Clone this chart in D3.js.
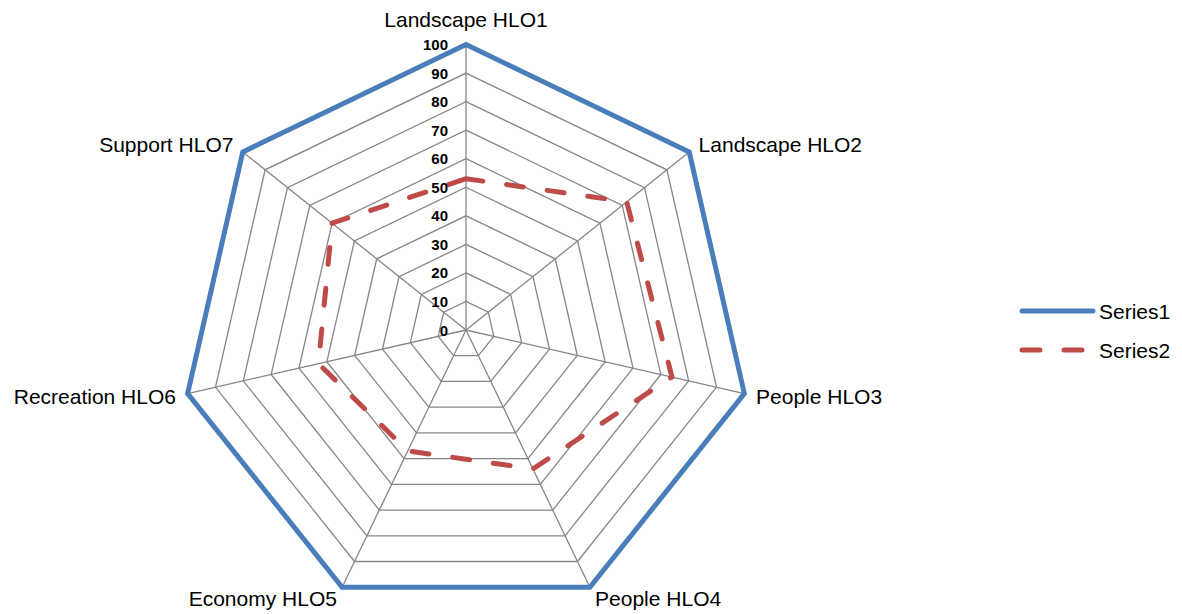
<!DOCTYPE html>
<html>
<head>
<meta charset="utf-8">
<script src="https://cdn.jsdelivr.net/npm/d3@7"></script>
<style>
  html, body { margin: 0; padding: 0; background: #ffffff; }
  svg { display: block; font-family: "Liberation Sans", Arial, sans-serif; }
</style>
</head>
<body>
<svg id="chart" width="1182" height="614"></svg>
<script>
// Radar axes (clockwise from the top)
const categories = [
  "Landscape HLO1", "Landscape HLO2", "People HLO3", "People HLO4",
  "Economy HLO5", "Recreation HLO6", "Support HLO7"
];
const series1 = [100, 100, 100, 100, 100, 100, 100];
const series2 = [53, 72, 74, 54, 47, 53, 60];
const seriesNames = ["Series1", "Series2"];
const tickValues = [0, 10, 20, 30, 40, 50, 60, 70, 80, 90, 100];

const svg = d3.select("#chart");
const cx = 466, cy = 330, R = 285.5;

const r = d3.scaleLinear().domain([0, 100]).range([0, R]);
const angle = d3.scalePoint()
  .domain(d3.range(categories.length + 1))
  .range([0, 2 * Math.PI]);
const ang = i => angle(i);

const g = svg.append("g").attr("transform", `translate(${cx},${cy})`);

const radial = d3.lineRadial()
  .angle((d, i) => ang(i))
  .radius(d => r(d))
  .curve(d3.curveLinearClosed);

// Grid rings
g.append("g").selectAll("path")
  .data(tickValues.slice(1))
  .join("path")
  .attr("d", v => radial(categories.map(() => v)))
  .attr("fill", "none")
  .attr("stroke", "#868686")
  .attr("stroke-width", 1.3);

// Spokes
g.append("g").selectAll("line")
  .data(categories)
  .join("line")
  .attr("x1", 0).attr("y1", 0)
  .attr("x2", (d, i) => r(100) * Math.sin(ang(i)))
  .attr("y2", (d, i) => -r(100) * Math.cos(ang(i)))
  .attr("stroke", "#868686")
  .attr("stroke-width", 1.3);

// Series lines
g.append("path")
  .attr("d", radial(series1))
  .attr("fill", "none")
  .attr("stroke", "#4a7ebb")
  .attr("stroke-width", 5)
  .attr("stroke-linejoin", "miter");

g.append("path")
  .attr("d", radial(series2))
  .attr("fill", "none")
  .attr("stroke", "#be4b48")
  .attr("stroke-width", 5)
  .attr("stroke-linecap", "round")
  .attr("stroke-dasharray", "17,24");

// Value axis labels
g.append("g").selectAll("text")
  .data(tickValues)
  .join("text")
  .attr("x", -18)
  .attr("y", v => -r(v))
  .attr("text-anchor", "end")
  .attr("dominant-baseline", "central")
  .attr("font-size", 15)
  .attr("font-weight", "bold")
  .attr("fill", "#000")
  .text(v => v);

// Category labels
const pad = 12;
g.append("g").selectAll("text")
  .data(categories)
  .join("text")
  .each(function (d, i) {
    const a = ang(i), s = Math.sin(a), c = Math.cos(a);
    const x = (R + pad) * s, y = -(R + pad) * c;
    const anchor = Math.abs(s) < 0.1 ? "middle" : (s > 0 ? "start" : "end");
    const shift = (Math.abs(s) < 0.1 && c > 0) ? -13 : 0;
    d3.select(this)
      .attr("x", x)
      .attr("y", y + shift)
      .attr("text-anchor", anchor)
      .attr("dominant-baseline", "central");
  })
  .attr("font-size", 21)
  .attr("fill", "#000")
  .text(d => d);

// Legend
const legend = svg.append("g").attr("transform", "translate(1022,311)");
const legendStyles = [
  { color: "#4a7ebb", dash: null, cap: "round" },
  { color: "#be4b48", dash: "18,24", cap: "round" }
];
const legendItems = legend.selectAll("g")
  .data(seriesNames)
  .join("g")
  .attr("transform", (d, i) => `translate(0,${i * 39})`);
legendItems.append("line")
  .attr("x1", 0).attr("x2", 71).attr("y1", 0).attr("y2", 0)
  .attr("stroke", (d, i) => legendStyles[i].color)
  .attr("stroke-width", 5)
  .attr("stroke-linecap", (d, i) => legendStyles[i].cap)
  .attr("stroke-dasharray", (d, i) => legendStyles[i].dash);
legendItems.append("text")
  .attr("x", 77).attr("y", 0)
  .attr("dominant-baseline", "central")
  .attr("font-size", 21)
  .attr("fill", "#000")
  .text(d => d);
</script>
</body>
</html>
